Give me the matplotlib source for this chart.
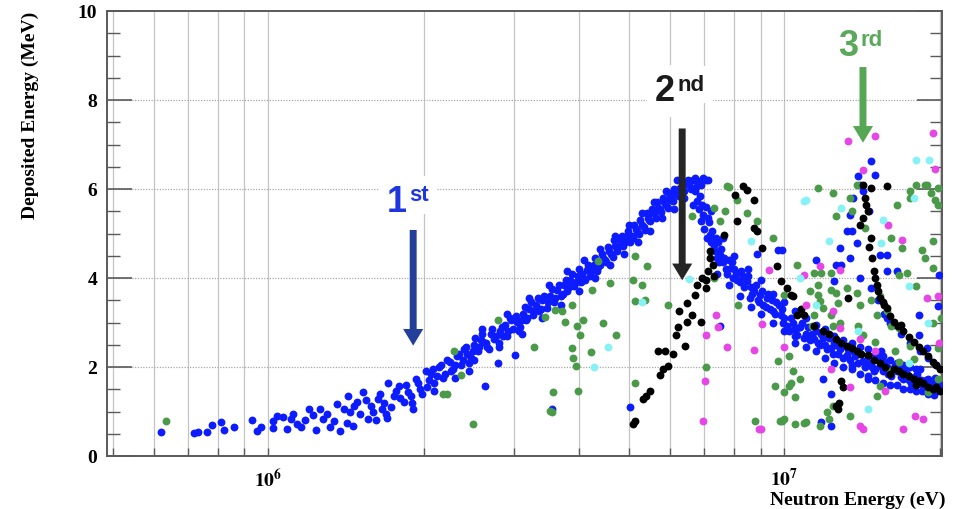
"""Deposited energy vs neutron energy, three scattering orders marked by arrows."""

import matplotlib

matplotlib.use("Agg")
import matplotlib.pyplot as plt
import numpy as np
from matplotlib.ticker import FixedLocator, FuncFormatter, MultipleLocator, NullFormatter

# (neutron energy [MeV], deposited energy [MeV])
blue_pts = [
    (0.62, 0.54), (0.72, 0.52), (0.73, 0.54), (0.76, 0.54), (0.78, 0.70), (0.81, 0.77),
    (0.82, 0.59), (0.86, 0.65), (0.93, 0.81), (0.95, 0.56), (0.97, 0.65), (1.02, 0.63),
    (1.02, 0.79), (1.04, 0.90), (1.07, 0.88), (1.09, 0.61), (1.11, 0.84), (1.14, 0.72),
    (1.16, 0.65), (1.20, 1.06), (1.24, 0.59), (1.26, 1.06), (1.28, 0.84), (1.32, 0.65),
    (1.36, 1.17), (1.38, 0.56), (1.43, 1.35), (1.44, 0.99), (1.46, 0.68), (1.49, 1.22),
    (1.53, 1.44), (1.56, 0.84), (1.58, 1.13), (1.63, 1.29), (1.66, 1.06), (1.69, 0.95),
    (1.71, 1.63), (1.75, 1.35), (1.79, 1.58), (1.83, 1.22), (1.87, 1.44), (1.91, 1.06),
    (1.93, 1.74), (1.97, 1.51), (2.02, 1.90), (1.12, 0.95), (1.18, 0.80), (1.22, 0.92),
    (1.30, 0.95), (1.34, 0.78), (1.40, 1.05), (1.42, 0.75), (1.47, 1.12), (1.51, 0.95),
    (1.55, 1.25), (1.60, 1.00), (1.62, 0.80), (1.65, 1.40), (1.68, 1.20), (1.73, 1.10),
    (1.77, 1.45), (1.80, 1.30), (1.85, 1.60), (1.89, 1.35), (1.95, 1.65), (1.99, 1.40),
    (2.05, 1.70), (2.09, 1.96), (2.12, 1.80), (2.16, 2.05), (2.20, 1.85), (2.25, 2.12),
    (2.28, 1.95), (2.32, 2.25), (2.36, 2.05), (2.40, 2.40), (2.43, 2.30), (2.47, 2.20),
    (2.50, 2.50), (2.55, 2.35), (2.58, 2.60), (2.61, 2.57), (2.63, 1.58), (2.66, 2.45),
    (2.70, 2.75), (2.74, 2.62), (2.79, 2.08), (2.81, 2.80), (2.85, 2.70), (2.88, 2.95),
    (2.92, 2.82), (2.96, 3.05), (3.01, 2.26), (3.04, 3.02), (3.08, 2.90), (3.12, 3.20),
    (3.16, 3.05), (3.20, 3.30), (3.26, 3.16), (3.30, 3.40), (3.35, 3.25), (3.40, 3.50),
    (3.47, 3.32), (3.52, 3.60), (3.58, 3.45), (3.63, 3.72), (3.70, 3.60), (3.75, 3.85),
    (3.79, 3.70), (3.85, 3.95), (3.92, 3.82), (3.98, 4.05), (4.04, 3.92), (4.08, 4.00),
    (4.14, 4.18), (4.20, 4.05), (4.27, 4.30), (4.33, 4.15), (4.40, 4.29), (4.46, 4.45),
    (4.52, 4.35), (4.58, 4.60), (4.65, 4.48), (4.70, 4.72), (4.74, 4.60), (4.80, 4.85),
    (4.88, 4.72), (4.95, 4.95), (5.02, 4.82), (5.10, 4.90), (5.15, 5.10), (5.22, 4.98),
    (5.30, 5.20), (5.38, 5.08), (5.44, 5.35), (5.50, 5.28), (5.56, 5.45), (5.63, 5.35),
    (5.70, 5.58), (5.78, 5.48), (5.85, 5.70), (5.94, 5.58), (6.00, 5.80), (6.08, 5.72),
    (6.15, 5.92), (6.20, 5.87), (6.28, 6.02), (6.37, 6.09), (6.45, 6.15), (6.55, 6.10),
    (6.66, 6.21), (6.80, 6.18), (6.97, 6.25), (7.12, 6.21), (3.55, 1.06), (5.03, 1.10),
    (2.03, 1.55), (2.07, 1.85), (2.10, 1.65), (2.14, 2.00), (2.18, 1.75), (2.22, 2.15),
    (2.26, 1.90), (2.30, 2.05), (2.34, 2.30), (2.38, 2.15), (2.42, 2.45), (2.45, 2.10),
    (2.49, 2.35), (2.52, 2.65), (2.56, 2.45), (2.60, 2.75), (2.64, 2.55), (2.68, 2.40),
    (2.72, 2.85), (2.76, 2.70), (2.80, 2.55), (2.84, 2.90), (2.90, 2.70), (2.94, 3.10),
    (2.98, 2.85), (3.02, 3.15), (3.06, 2.80), (3.10, 3.05), (3.14, 3.35), (3.18, 3.10),
    (3.23, 3.45), (3.28, 3.25), (3.33, 3.55), (3.38, 3.30), (3.43, 3.60), (3.49, 3.45),
    (3.55, 3.75), (3.60, 3.55), (3.66, 3.85), (3.72, 3.65), (3.77, 3.95), (3.82, 3.80),
    (3.88, 4.10), (3.95, 3.90), (4.01, 4.20), (4.06, 4.10), (4.11, 3.95), (4.17, 4.30),
    (4.24, 4.15), (4.30, 4.45), (4.36, 4.25), (4.43, 4.55), (4.49, 4.40), (4.55, 4.70),
    (4.62, 4.55), (4.68, 4.85), (4.77, 4.70), (4.84, 4.95), (4.91, 4.80), (4.98, 5.05),
    (5.06, 4.95), (5.12, 5.20), (5.19, 5.05), (5.26, 5.30), (5.34, 5.15), (5.41, 5.45),
    (5.47, 5.30), (5.53, 5.55), (5.60, 5.45), (5.66, 5.70), (5.74, 5.55), (5.81, 5.80),
    (5.89, 5.65), (5.97, 5.90), (6.04, 5.75), (6.12, 6.00), (6.24, 5.85), (6.33, 6.15),
    (6.40, 5.95), (6.50, 6.20), (6.60, 6.00), (6.72, 6.25), (6.90, 6.10), (7.05, 6.20),
    (2.60, 2.85), (2.90, 3.20), (3.20, 3.55), (3.50, 3.85), (3.80, 4.15), (4.10, 4.40),
    (4.40, 4.65), (4.70, 4.95), (5.00, 5.20), (5.30, 5.45), (5.60, 5.70), (5.90, 5.95),
    (6.20, 6.20), (2.50, 2.15), (2.80, 2.45), (3.10, 2.75), (3.40, 3.10), (3.70, 3.40),
    (4.00, 3.70), (4.30, 4.00), (4.60, 4.30), (4.90, 4.55), (5.20, 4.80), (5.50, 5.05),
    (5.80, 5.35), (6.10, 5.55), (6.40, 5.80), (1.70, 0.85), (1.90, 1.20), (2.10, 1.45),
    (2.30, 1.75), (2.45, 1.90),
    (6.66, 5.64), (6.77, 5.73), (6.88, 5.28), (6.97, 5.42), (6.70, 5.95), (6.85, 5.85),
    (7.05, 5.60), (7.08, 4.90), (7.19, 4.97), (7.15, 5.25), (7.30, 4.75), (7.41, 4.45),
    (7.52, 4.51), (7.45, 4.80), (7.60, 4.35), (7.70, 4.20), (7.87, 4.22), (7.97, 4.00),
    (7.80, 4.40), (8.05, 4.10), (8.20, 3.90), (8.30, 4.05), (8.45, 3.93), (8.57, 3.54),
    (8.60, 3.80), (8.75, 3.70), (8.90, 3.50), (8.97, 3.61), (9.10, 3.40), (9.25, 3.55),
    (9.40, 3.30), (9.52, 3.25), (9.65, 3.45), (9.84, 3.16), (9.95, 3.00), (10.1, 2.93),
    (10.3, 3.10), (10.45, 2.85), (10.6, 2.71), (10.6, 2.87), (10.8, 3.00), (11.0, 2.75),
    (11.2, 2.60), (11.4, 2.64), (11.5, 2.80), (11.7, 2.50), (11.9, 2.65), (12.1, 2.40),
    (12.3, 2.42), (12.5, 2.55), (12.7, 2.30), (12.9, 2.45), (13.2, 2.26), (13.4, 2.15),
    (13.6, 2.35), (13.9, 2.10), (14.2, 2.14), (14.5, 2.25), (14.8, 2.00), (15.0, 1.95),
    (15.3, 2.03), (15.6, 2.12), (15.9, 1.85), (16.2, 1.95), (16.5, 1.90), (16.8, 1.78),
    (17.1, 1.95), (17.4, 1.70), (17.8, 1.74), (18.1, 1.85), (18.5, 1.60), (18.8, 1.70),
    (19.2, 1.58), (19.5, 1.50), (19.8, 1.65), (20.0, 1.51), (19.6, 1.75), (18.3, 1.95),
    (6.75, 6.05), (6.82, 5.55), (6.92, 5.65), (7.00, 5.10), (7.10, 5.35), (7.22, 4.80),
    (7.25, 5.05), (7.35, 4.60), (7.38, 4.90), (7.48, 4.35), (7.55, 4.65), (7.65, 4.45),
    (7.75, 4.10), (7.90, 4.35), (8.00, 4.20), (8.10, 3.95), (8.25, 4.15), (8.35, 3.80),
    (8.50, 4.05), (8.65, 3.65), (8.80, 3.85), (8.95, 3.45), (9.05, 3.70), (9.20, 3.35),
    (9.30, 3.65), (9.45, 3.50), (9.60, 3.20), (9.75, 3.40), (9.90, 3.30), (10.0, 3.10),
    (10.2, 2.80), (10.4, 3.00), (10.5, 2.70), (10.7, 2.90), (10.9, 2.65), (11.1, 2.90),
    (11.3, 2.75), (11.6, 2.55), (11.8, 2.75), (12.0, 2.50), (12.2, 2.65), (12.4, 2.30),
    (12.6, 2.50), (12.8, 2.40), (13.0, 2.20), (13.3, 2.40), (13.5, 2.05), (13.7, 2.25),
    (14.0, 2.30), (14.3, 2.00), (14.6, 2.10), (14.9, 1.90), (15.2, 2.20), (15.5, 1.90),
    (15.8, 2.00), (16.1, 1.80), (16.4, 2.05), (16.7, 1.95), (17.0, 1.72), (17.3, 1.85),
    (17.6, 1.65), (18.0, 1.80), (18.4, 1.70), (18.7, 1.55), (19.0, 1.72), (19.4, 1.62),
    (19.7, 1.45), (20.0, 1.60),
    (7.20, 5.50), (7.60, 4.90), (8.00, 4.50), (8.50, 4.20), (9.00, 3.95), (9.50, 3.65),
    (10.0, 3.45), (10.5, 3.25), (11.0, 3.10), (11.5, 2.95), (12.0, 2.85), (12.5, 2.70),
    (13.0, 2.60), (13.5, 2.55), (14.0, 2.45), (14.5, 2.40), (15.0, 2.30), (15.5, 2.25),
    (16.0, 2.15), (16.5, 2.10), (17.0, 2.05), (17.5, 2.00), (18.0, 1.95),
    (7.40, 4.10), (7.80, 3.85), (8.20, 3.60), (8.60, 3.35), (9.00, 3.20), (9.50, 3.00),
    (10.0, 2.80), (10.5, 2.55), (11.0, 2.45), (11.5, 2.35), (12.0, 2.20), (12.5, 2.10),
    (13.0, 2.00), (13.5, 1.95), (14.0, 1.85), (14.5, 1.80), (15.0, 1.70), (15.5, 1.65),
    (16.0, 1.60), (16.5, 1.60), (17.0, 1.50), (17.5, 1.50), (18.0, 1.45), (18.5, 1.45),
    (19.0, 1.40), (19.5, 1.38),
    (14.7, 6.64), (15.0, 6.32), (14.0, 6.10), (13.6, 5.80), (13.4, 5.42), (13.2, 5.05),
    (12.8, 4.67), (12.6, 4.29), (13.8, 4.79), (13.5, 5.05), (13.4, 4.45), (12.9, 4.29),
    (14.0, 4.00), (14.7, 3.77), (15.3, 4.51), (15.8, 4.51), (15.8, 4.15), (12.5, 3.93),
    (16.5, 4.15), (19.9, 4.06), (19.8, 3.36), (18.2, 3.16), (15.4, 2.35), (11.9, 1.74),
    (12.3, 1.40), (11.8, 0.77), (12.3, 0.68), (14.5, 1.74), (18.9, 2.42), (9.9, 4.63),
    (9.7, 4.63), (8.84, 4.54), (7.5, 2.93), (14.2, 5.95), (13.9, 6.30), (14.6, 5.50),
    (15.2, 3.50), (15.6, 3.20), (16.0, 3.00), (16.8, 2.75), (17.5, 2.55), (18.3, 2.35),
    (19.0, 2.20), (19.7, 2.05), (11.5, 4.40), (15.8, 3.09), (16.4, 2.95), (18.2, 2.71),
]

black_pts = [
    (5.10, 0.72), (5.13, 0.79), (5.33, 1.29), (5.50, 1.47), (5.40, 1.35), (5.75, 1.81),
    (5.83, 1.96), (5.94, 2.03), (5.70, 2.37), (5.87, 2.37), (6.09, 2.30), (6.16, 2.71),
    (6.22, 2.91), (6.42, 2.48), (6.24, 3.25), (6.47, 3.43), (6.49, 3.02), (6.62, 3.16),
    (6.72, 3.61), (6.88, 3.02), (6.77, 3.84), (6.93, 4.00), (7.04, 3.77), (7.12, 4.15),
    (7.26, 4.29), (7.19, 4.45), (7.19, 4.60), (7.05, 3.95), (7.30, 4.05), (7.63, 4.97),
    (8.10, 5.28), (8.03, 5.87), (8.33, 6.07), (8.48, 5.98), (8.72, 5.76), (8.72, 5.12),
    (8.84, 5.05), (9.06, 4.67), (9.66, 4.27), (9.84, 3.93), (10.1, 3.77), (10.3, 3.61),
    (10.6, 3.16), (10.4, 3.59), (10.9, 3.16), (10.75, 3.30),
    (11.4, 2.93), (11.9, 2.80), (12.2, 2.75), (12.6, 2.64), (12.9, 2.55), (13.2, 2.48),
    (13.5, 2.42), (13.8, 2.37), (14.1, 2.30), (14.5, 2.26), (14.9, 2.15), (15.3, 2.08),
    (15.7, 2.00), (16.3, 1.96), (16.7, 1.90), (17.0, 1.85), (17.4, 1.80), (17.8, 1.74),
    (18.2, 1.68), (18.6, 1.63), (19.0, 1.56), (19.4, 1.51), (19.7, 1.55), (20.0, 1.47),
    (16.0, 1.85), (18.0, 1.60),
    (12.9, 1.69), (13.0, 1.56), (12.6, 1.13), (12.7, 1.06), (12.75, 1.20), (13.3, 3.54),
    (14.2, 6.10), (14.7, 6.03), (15.8, 6.07), (14.3, 5.80), (14.5, 5.51), (14.0, 5.19),
    (14.2, 5.35), (14.7, 4.90), (14.8, 4.45), (14.9, 4.15), (15.1, 3.84), (15.3, 3.54),
    (15.8, 3.32), (16.3, 3.02), (17.0, 2.80), (17.8, 2.57), (18.6, 2.35), (19.4, 2.12),
    (20.0, 1.96), (14.4, 5.65), (14.6, 4.70), (15.0, 4.00), (15.2, 3.70), (15.5, 3.45),
    (16.0, 3.15), (16.6, 2.92), (17.4, 2.68), (18.2, 2.45), (19.0, 2.25), (19.7, 2.05),
    (15.6, 3.40), (16.8, 2.95),
]

green_pts = [
    (0.634, 0.79), (2.18, 1.40), (2.22, 1.40), (2.29, 2.37), (2.36, 1.81), (2.49, 0.72),
    (2.79, 3.05), (3.28, 2.46), (3.44, 3.12), (3.52, 1.02), (3.55, 0.99), (3.57, 1.44),
    (3.60, 3.28), (3.71, 3.25), (3.76, 3.02), (3.88, 3.39), (3.88, 2.42), (3.90, 2.21),
    (3.95, 2.03), (3.96, 2.93), (3.99, 1.47), (4.02, 2.71), (4.08, 3.05), (4.23, 2.33),
    (4.24, 3.72), (4.35, 4.38), (4.46, 3.00), (4.60, 3.88), (4.72, 2.71), (5.08, 3.95),
    (5.14, 4.49), (5.14, 3.48), (5.14, 1.63), (5.31, 3.84), (5.37, 3.50), (5.42, 4.27),
    (5.96, 3.39), (6.62, 5.39), (7.04, 2.01), (7.30, 5.58), (7.30, 4.00), (7.49, 5.28),
    (7.67, 5.51), (7.76, 6.07), (7.82, 6.05), (8.10, 5.76), (8.13, 3.39), (8.45, 5.46),
    (8.84, 5.28), (8.76, 0.79), (9.52, 4.90), (9.6, 1.58), (9.7, 2.14), (9.9, 0.79),
    (9.97, 3.61), (10.0, 1.44), (10.2, 2.24), (10.3, 1.63), (10.4, 1.90), (10.5, 1.33),
    (10.5, 0.72), (10.6, 4.29), (10.7, 1.74), (10.2, 1.58), (9.97, 0.83), (11.0, 0.77),
    (11.2, 3.70), (11.3, 2.93), (11.4, 4.11), (11.4, 3.16), (11.6, 6.03), (11.6, 3.84),
    (11.6, 3.61), (11.7, 3.48), (11.7, 0.68), (11.8, 4.11), (11.9, 3.32), (12.1, 0.99),
    (12.2, 0.83), (12.3, 4.11), (12.3, 3.72), (12.3, 3.16), (12.4, 5.91), (12.4, 2.93),
    (12.4, 1.13), (12.6, 5.39), (12.6, 3.66), (12.7, 3.43), (12.8, 2.98), (13.2, 3.77),
    (13.4, 5.80), (13.4, 0.90), (13.5, 5.51), (13.8, 6.10), (13.8, 3.66), (13.9, 2.93),
    (14.0, 3.39), (14.2, 2.71), (14.3, 5.12), (14.7, 3.50), (15.0, 2.57), (15.1, 3.16),
    (15.1, 1.35), (15.3, 3.59), (15.3, 1.58), (15.8, 3.25), (16.1, 4.90), (16.1, 2.93),
    (16.1, 1.90), (16.4, 2.37), (16.5, 5.64), (16.7, 4.06), (16.7, 2.87), (16.7, 2.12),
    (16.9, 4.67), (17.3, 4.11), (17.5, 5.80), (17.5, 5.96), (17.5, 2.48), (17.8, 2.19),
    (18.0, 6.10), (18.0, 3.81), (18.5, 4.63), (18.7, 4.45), (18.7, 6.10), (18.9, 6.10),
    (19.0, 1.44), (19.2, 5.91), (19.4, 4.83), (19.4, 4.22), (19.4, 2.98), (19.6, 5.76),
    (19.8, 5.64), (19.8, 2.42), (19.8, 1.74), (20.1, 3.09), (19.8, 6.03), (9.8, 0.79),
    (10.9, 0.75),
]

magenta_pts = [
    (7.36, 3.16), (7.45, 2.91), (7.06, 2.73), (7.76, 2.46), (8.72, 2.39), (9.06, 2.96),
    (9.35, 4.18), (9.97, 2.46), (7.01, 1.69), (6.97, 0.79), (8.93, 0.61), (15.9, 5.19),
    (16.9, 4.85), (11.7, 4.27), (12.8, 4.18), (10.9, 4.06), (11.0, 3.39), (12.4, 3.25),
    (12.8, 2.87), (15.0, 2.35), (14.0, 2.64), (18.9, 3.54), (19.8, 3.59), (19.9, 2.53),
    (13.4, 1.56), (12.3, 1.96), (15.7, 1.47), (14.0, 0.68), (14.2, 0.61), (17.0, 0.61),
    (17.9, 0.90), (18.6, 0.83), (13.3, 7.07), (15.0, 7.20), (19.4, 7.25), (19.6, 6.46),
    (14.2, 6.43), (9.0, 0.61),
]

cyan_pts = [
    (6.54, 3.97), (5.31, 3.45), (4.56, 2.46), (4.28, 2.01), (8.62, 4.83), (10.9, 5.73),
    (12.9, 5.58), (12.2, 4.83), (15.5, 5.30), (15.4, 4.79), (17.4, 3.81), (19.0, 2.98),
    (10.7, 4.00), (13.9, 2.80), (17.4, 2.08), (14.5, 1.06), (11.5, 3.39), (17.8, 5.80),
    (18.0, 6.66), (19.1, 6.66), (11.0, 5.76),
]

# arrow markers: (label, superscript, text x [MeV], text y, arrow top, arrow tip)
orders = [
    ("1", "st", 1.86, 5.51, 5.08, 2.48),
    ("2", "nd", 6.15, 7.99, 7.36, 3.95),
    ("3", "rd", 13.9, 9.01, 8.74, 7.04),
]
text_colors = ["#1f35e0", "#1a1a1a", "#5aa85a"]
arrow_colors = ["#243f99", "#252525", "#55a655"]
arrow_x = [1.91, 6.34, 14.2]

series = [
    (blue_pts, "#0d1bff"),
    (green_pts, "#4a9a4a"),
    (black_pts, "#000000"),
    (magenta_pts, "#e646e6"),
    (cyan_pts, "#86f2f5"),
]

plt.rcParams["mathtext.fontset"] = "stix"
serif = "Liberation Serif"
frame_c = "#5a5a5a"

fig = plt.figure(figsize=(9.55, 5.1), dpi=100)
ax = fig.add_axes([107 / 955, 53 / 510, 835 / 955, 445 / 510])

for pts, c in series:
    arr = np.array(pts)
    ax.scatter(arr[:, 0] * 1e6, arr[:, 1], s=32, color=c, linewidths=0, zorder=3)

ax.set_xscale("log")
ax.set_xlim(0.4875e6, 2.02e7)
ax.set_ylim(0, 10)

ax.xaxis.set_major_locator(FixedLocator([1e6, 1e7]))
ax.xaxis.set_minor_locator(FixedLocator([k * 10 ** p for p in (5, 6) for k in range(2, 10)] + [2e7]))
ax.xaxis.set_major_formatter(FuncFormatter(lambda v, _: r"$\mathbf{10^{%d}}$" % round(np.log10(v))))
ax.xaxis.set_minor_formatter(NullFormatter())
ax.yaxis.set_major_locator(MultipleLocator(2))
ax.yaxis.set_minor_locator(MultipleLocator(0.5))

for xv in ax.xaxis.get_majorticklocs().tolist() + ax.xaxis.get_minorticklocs().tolist():
    ax.axvline(xv, color="#c4c4c4", lw=0.9, zorder=1)
for yv in (2, 4, 6, 8):
    ax.axhline(yv, color="#a8a8a8", lw=0.9, ls=(0, (1, 1.2)), zorder=1)

ax.tick_params(axis="y", which="major", direction="in", length=18, width=1.2, color=frame_c,
               right=True, pad=7, labelsize=14)
ax.tick_params(axis="y", which="minor", direction="in", length=9, width=1.0, color=frame_c, right=True)
ax.tick_params(axis="x", which="both", direction="in", length=6, width=1.0, color=frame_c, pad=8,
               labelsize=14)
for lab in ax.get_yticklabels():
    lab.set_family(serif)
    lab.set_fontweight("bold")
for sp in ax.spines.values():
    sp.set_color(frame_c)
    sp.set_linewidth(1.4)

fig.text(30 / 955, 1 - 12 / 510, "Deposited Energy (MeV)", rotation=90, ha="center", va="top",
         family=serif, fontweight="bold", fontsize=14)
fig.text(945 / 955, 1 - 505 / 510, "Neutron Energy (eV)", ha="right", va="baseline",
         family=serif, fontweight="bold", fontsize=14)

box = dict(fc="white", ec="none", pad=6)
for (num, sup, xe, ty, top, tip), tc, ac, ax_e in zip(orders, text_colors, arrow_colors, arrow_x):
    sup_kw = dict(xytext=(1.5, 7.5), textcoords="offset points", ha="left", va="baseline",
                  fontsize=16, family="Liberation Sans", fontweight="bold")
    # white backing for the superscript, drawn under the number
    ax.annotate(sup, (xe * 1e6, ty), color="white", zorder=4, bbox=box, **sup_kw)
    ax.annotate(num, (xe * 1e6, ty), ha="right", va="baseline", fontsize=26, color=tc,
                family="Liberation Sans", fontweight="bold", zorder=5, bbox=box)
    ax.annotate(sup, (xe * 1e6, ty), color=tc, zorder=6, **sup_kw)
    ax.annotate("", xy=(ax_e * 1e6, tip), xytext=(ax_e * 1e6, top), zorder=7,
                arrowprops=dict(arrowstyle="simple,head_width=1.45,head_length=1.2,tail_width=0.5",
                                fc=ac, ec="none", shrinkA=0, shrinkB=0))

fig.savefig("out.png", dpi=100)
